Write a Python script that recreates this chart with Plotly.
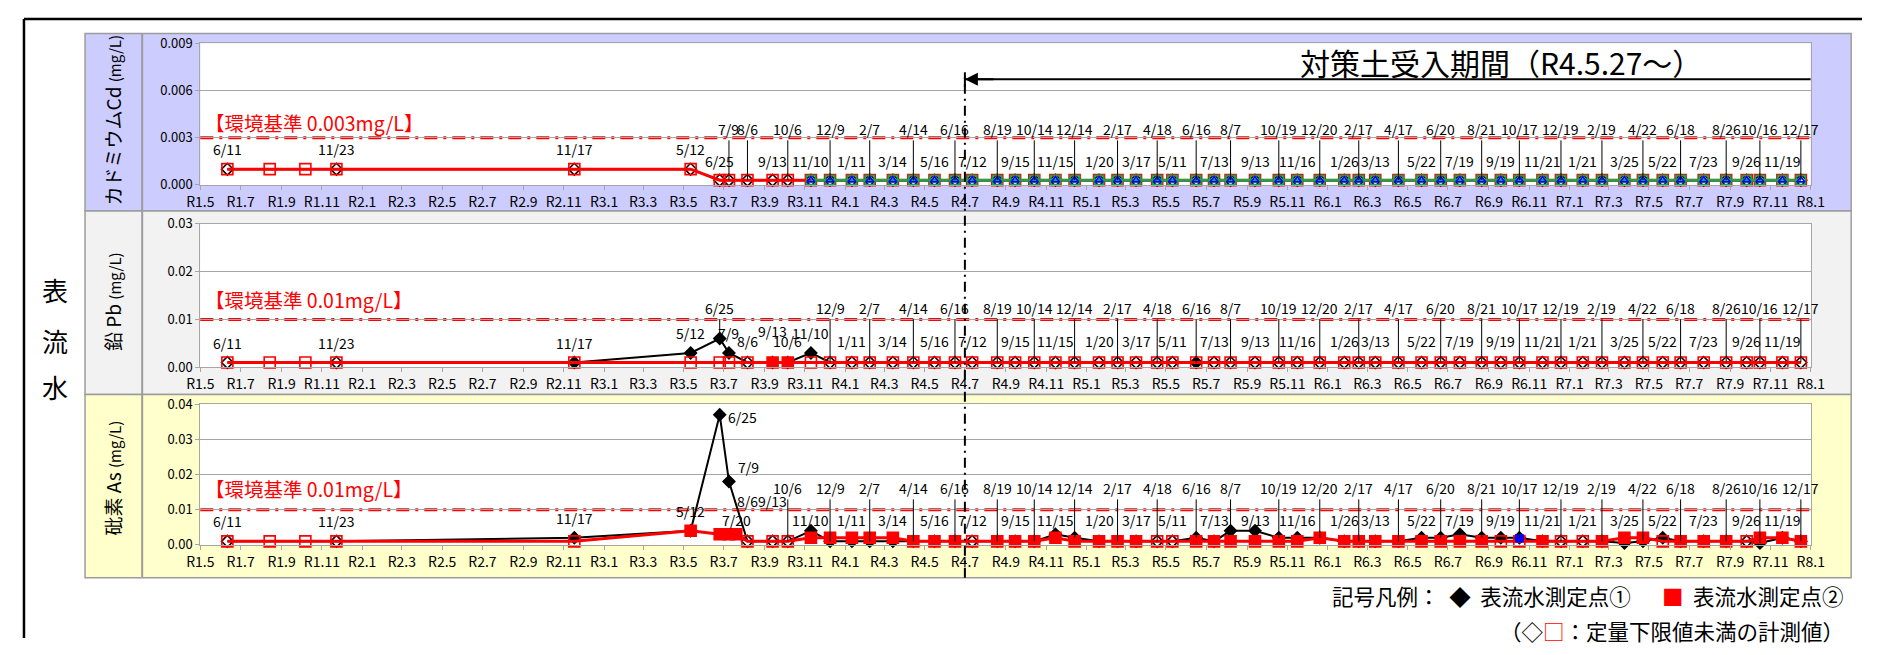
import plotly.graph_objects as go

# page is 1884x655 with the browser's default 8px body margin -> figure is 16px smaller
PAGE_W, PAGE_H, OFF = 1884, 655, 8
W, H = PAGE_W - 2 * OFF, PAGE_H - 2 * OFF

# ---------------- data ----------------
TICK_LABELS = ["R1.5", "R1.7", "R1.9", "R1.11", "R2.1", "R2.3", "R2.5", "R2.7", "R2.9", "R2.11",
               "R3.1", "R3.3", "R3.5", "R3.7", "R3.9", "R3.11", "R4.1", "R4.3", "R4.5", "R4.7",
               "R4.9", "R4.11", "R5.1", "R5.3", "R5.5", "R5.7", "R5.9", "R5.11", "R6.1", "R6.3",
               "R6.5", "R6.7", "R6.9", "R6.11", "R7.1", "R7.3", "R7.5", "R7.7", "R7.9", "R7.11", "R8.1"]

# sampling dates of point 1 (also label dates)
DATES_P1 = ["2019-06-11", "2019-11-23", "2020-11-17", "2021-05-12", "2021-06-25", "2021-07-09",
            "2021-08-06", "2021-09-13", "2021-10-06", "2021-11-10", "2021-12-09",
            "2022-01-11", "2022-02-07", "2022-03-14", "2022-04-14", "2022-05-16", "2022-06-16",
            "2022-07-12", "2022-08-19", "2022-09-15", "2022-10-14", "2022-11-15", "2022-12-14",
            "2023-01-20", "2023-02-17", "2023-03-17", "2023-04-18", "2023-05-11", "2023-06-16",
            "2023-07-13", "2023-08-07", "2023-09-13", "2023-10-19", "2023-11-16", "2023-12-20",
            "2024-01-26", "2024-02-17", "2024-03-13", "2024-04-17", "2024-05-22", "2024-06-20",
            "2024-07-19", "2024-08-21", "2024-09-19", "2024-10-17", "2024-11-21", "2024-12-19",
            "2025-01-21", "2025-02-19", "2025-03-25", "2025-04-22", "2025-05-22", "2025-06-18",
            "2025-07-23", "2025-08-26", "2025-09-26", "2025-10-16", "2025-11-19", "2025-12-17"]

# sampling dates of point 2 (Cd, Pb)
DATES_P2 = ["2019-06-11", "2019-08-14", "2019-10-07", "2019-11-23"] + DATES_P1[2:]
# sampling dates of point 2 (As) - extra sample on R3.7.20
DATES_P2_AS = DATES_P2[:8] + ["2021-07-20"] + DATES_P2[8:]

# start of the extra Cd series (green / blue)
DATES_CD_EXTRA = DATES_P1[9:]

# ---- Cd (mg/L) ----
CD_P1 = [0.001, 0.001, 0.001, 0.001, 0.0003, 0.0003, 0.0003, 0.0003, 0.0003, 0.0003, 0.0003,
         0.0003, 0.0003, 0.0003, 0.0003, 0.0003, 0.0003, 0.0003, 0.0003, 0.0003, 0.0003, 0.0003, 0.0003,
         0.0003, 0.0003, 0.0003, 0.0003, 0.0003, 0.0003, 0.0003, 0.0003, 0.0003, 0.0003, 0.0003, 0.0003,
         0.0003, 0.0003, 0.0003, 0.0003, 0.0003, 0.0003, 0.0003, 0.0003, 0.0003, 0.0003, 0.0003, 0.0003,
         0.0003, 0.0003, 0.0003, 0.0003, 0.0003, 0.0003, 0.0003, 0.0003, 0.0003, 0.0003, 0.0003, 0.0003]
CD_P1_DET = [0] * len(CD_P1)
CD_P2 = [0.001, 0.001, 0.001, 0.001, 0.001, 0.001, 0.0003, 0.0003, 0.0003, 0.0003, 0.0003, 0.0003, 0.0003,
         0.0003, 0.0003, 0.0003, 0.0003, 0.0003, 0.0003, 0.0003, 0.0003, 0.0003, 0.0003, 0.0003, 0.0003,
         0.0003, 0.0003, 0.0003, 0.0003, 0.0003, 0.0003, 0.0003, 0.0003, 0.0003, 0.0003, 0.0003, 0.0003,
         0.0003, 0.0003, 0.0003, 0.0003, 0.0003, 0.0003, 0.0003, 0.0003, 0.0003, 0.0003, 0.0003, 0.0003,
         0.0003, 0.0003, 0.0003, 0.0003, 0.0003, 0.0003, 0.0003, 0.0003, 0.0003, 0.0003, 0.0003, 0.0003]
CD_P2_DET = [0] * len(CD_P2)
CD_EXTRA = [0.0003, 0.0003, 0.0003, 0.0003, 0.0003, 0.0003, 0.0003, 0.0003, 0.0003, 0.0003,
            0.0003, 0.0003, 0.0003, 0.0003, 0.0003, 0.0003, 0.0003, 0.0003, 0.0003, 0.0003,
            0.0003, 0.0003, 0.0003, 0.0003, 0.0003, 0.0003, 0.0003, 0.0003, 0.0003, 0.0003,
            0.0003, 0.0003, 0.0003, 0.0003, 0.0003, 0.0003, 0.0003, 0.0003, 0.0003, 0.0003,
            0.0003, 0.0003, 0.0003, 0.0003, 0.0003, 0.0003, 0.0003, 0.0003, 0.0003, 0.0003]

# ---- Pb (mg/L) ----
PB_P1 = [0.001, 0.001, 0.001, 0.003, 0.006, 0.003, 0.001, 0.001, 0.001, 0.003, 0.001,
         0.001, 0.001, 0.001, 0.001, 0.001, 0.001, 0.001, 0.001, 0.001, 0.001, 0.001, 0.001,
         0.001, 0.001, 0.001, 0.001, 0.001, 0.001, 0.001, 0.001, 0.001, 0.001, 0.001, 0.001,
         0.001, 0.001, 0.001, 0.001, 0.001, 0.001, 0.001, 0.001, 0.001, 0.001, 0.001, 0.001,
         0.001, 0.001, 0.001, 0.001, 0.001, 0.001, 0.001, 0.001, 0.001, 0.001, 0.001, 0.001]
PB_P1_DET = [0, 0, 1, 1, 1, 1, 0, 0, 0, 1, 0,
             0, 0, 0, 0, 0, 0, 0, 0, 0, 0, 0, 0,
             0, 0, 0, 0, 0, 1, 0, 0, 0, 0, 0, 0,
             0, 0, 0, 0, 0, 0, 0, 0, 0, 0, 0, 0,
             0, 0, 0, 0, 0, 0, 0, 0, 0, 0, 0, 0]
PB_P2 = [0.001, 0.001, 0.001, 0.001, 0.001, 0.001, 0.001, 0.001, 0.001, 0.001, 0.001, 0.001, 0.001,
         0.001, 0.001, 0.001, 0.001, 0.001, 0.001, 0.001, 0.001, 0.001, 0.001, 0.001, 0.001,
         0.001, 0.001, 0.001, 0.001, 0.001, 0.001, 0.001, 0.001, 0.001, 0.001, 0.001, 0.001,
         0.001, 0.001, 0.001, 0.001, 0.001, 0.001, 0.001, 0.001, 0.001, 0.001, 0.001, 0.001,
         0.001, 0.001, 0.001, 0.001, 0.001, 0.001, 0.001, 0.001, 0.001, 0.001, 0.001, 0.001]
PB_P2_DET = [0, 0, 0, 0, 0, 0, 0, 0, 0, 1, 1, 0, 0,
             0, 0, 0, 0, 0, 0, 0, 0, 0, 0, 0, 0,
             0, 0, 0, 0, 0, 0, 0, 0, 0, 0, 0, 0,
             0, 0, 0, 0, 0, 0, 0, 0, 0, 0, 0, 0,
             0, 0, 0, 0, 0, 0, 0, 0, 0, 0, 0, 0]

# ---- As (mg/L) ----
AS_P1 = [0.001, 0.001, 0.002, 0.004, 0.037, 0.018, 0.001, 0.001, 0.001, 0.004, 0.001,
         0.001, 0.001, 0.001, 0.001, 0.001, 0.001, 0.001, 0.001, 0.001, 0.001, 0.003, 0.002,
         0.001, 0.001, 0.001, 0.001, 0.001, 0.002, 0.001, 0.004, 0.004, 0.002, 0.002, 0.002,
         0.001, 0.001, 0.001, 0.001, 0.002, 0.002, 0.003, 0.002, 0.002, 0.002, 0.001, 0.001,
         0.001, 0.001, 0.0005, 0.001, 0.002, 0.001, 0.001, 0.001, 0.001, 0.0005, 0.002, 0.001]
AS_P1_DET = [0, 0, 1, 1, 1, 1, 0, 0, 0, 1, 1,
             1, 1, 1, 1, 1, 1, 0, 1, 1, 1, 1, 1,
             1, 1, 1, 0, 0, 1, 1, 1, 1, 1, 1, 1,
             1, 1, 1, 1, 1, 1, 1, 1, 1, 1, 1, 0,
             0, 1, 1, 1, 1, 1, 1, 1, 0, 1, 1, 1]
AS_P2 = [0.001, 0.001, 0.001, 0.001, 0.001, 0.004, 0.003, 0.003, 0.003, 0.001, 0.001, 0.001, 0.002, 0.002,
         0.002, 0.002, 0.002, 0.001, 0.001, 0.001, 0.001, 0.001, 0.001, 0.001, 0.002, 0.001,
         0.001, 0.001, 0.001, 0.001, 0.001, 0.001, 0.001, 0.001, 0.001, 0.001, 0.001, 0.002,
         0.001, 0.001, 0.001, 0.001, 0.001, 0.001, 0.001, 0.001, 0.001, 0.001, 0.001, 0.001,
         0.001, 0.001, 0.002, 0.002, 0.001, 0.001, 0.001, 0.001, 0.001, 0.002, 0.002, 0.001]
AS_P2_DET = [0, 0, 0, 0, 0, 1, 1, 1, 1, 0, 0, 0, 1, 1,
             1, 1, 1, 1, 1, 1, 0, 1, 1, 1, 1, 1,
             1, 1, 1, 0, 0, 1, 1, 1, 1, 1, 1, 1,
             1, 1, 1, 1, 1, 1, 1, 1, 0, 0, 1, 0,
             0, 1, 1, 1, 0, 1, 1, 1, 0, 1, 1, 1]
AS_BLUE_DATES = ["2024-10-17"]
AS_BLUE = [0.0019]

STANDARDS = [0.003, 0.01, 0.01]
STANDARD_TEXT = ["【環境基準 0.003mg/L】", "【環境基準 0.01mg/L】", "【環境基準 0.01mg/L】"]
Y_MAX = [0.009, 0.03, 0.04]
Y_TICKS = [[0, 0.003, 0.006, 0.009], [0, 0.01, 0.02, 0.03], [0, 0.01, 0.02, 0.03, 0.04]]
Y_FMT = [".3f", ".2f", ".2f"]
PANEL_TITLES = ['カドミウムCd <span style="font-size:15px">(mg/L)</span>',
                '鉛 Pb <span style="font-size:15px">(mg/L)</span>',
                '砒素 As <span style="font-size:15px">(mg/L)</span>']
TITLE = "対策土受入期間（R4.5.27～）"
START_DATE = "2022-07-01"

# ---------------- layout helpers ----------------
def tick_date(lbl):
    y, m = lbl[1:].split(".")
    return "%d-%02d-01" % (2018 + int(y), int(m))

TICK_DATES = [tick_date(t) for t in TICK_LABELS]
LABELS = ["%d/%d" % (int(d[5:7]), int(d[8:10])) for d in DATES_P1]

# page pixel -> paper fraction
def px(x):
    return (x - OFF) / W

def py(y):
    return 1 - (y - OFF) / H

FONT = "Noto Sans CJK JP, Noto Sans, sans-serif"
GRAY = "#A6A6A6"
PLOT_X = (189, 1824)
PLOT_Y = [(34, 180), (220, 368), (406, 551)]
PANEL_Y = [(24, 207), (207, 396), (396, 585)]
PANEL_BG = ["#CCCCFF", "#F2F2F2", "#FFFFCC"]

fig = go.Figure()


def add_series(n, dates, vals, det, sym, color, size, lw):
    symbols = [sym if f else sym + "-open" for f in det]
    fig.add_trace(go.Scatter(
        x=dates, y=vals, xaxis="x" + n, yaxis="y" + n, mode="lines+markers",
        line=dict(color=color, width=lw),
        marker=dict(symbol=symbols, size=size, color=color, line=dict(color=color, width=1.6)),
        showlegend=False, hoverinfo="skip", cliponaxis=False))


# Cd
add_series("", DATES_P1, CD_P1, CD_P1_DET, "diamond", "black", 9, 2)
add_series("", DATES_P2, CD_P2, CD_P2_DET, "square", "red", 11, 3)
add_series("", DATES_CD_EXTRA, CD_EXTRA, [0] * len(CD_EXTRA), "square", "#00B050", 9, 2.5)
add_series("", DATES_CD_EXTRA, CD_EXTRA, [0] * len(CD_EXTRA), "triangle-up", "#0000FF", 7, 0)
# Pb
add_series("2", DATES_P1, PB_P1, PB_P1_DET, "diamond", "black", 9, 2)
add_series("2", DATES_P2, PB_P2, PB_P2_DET, "square", "red", 11, 3)
# As
add_series("3", DATES_P1, AS_P1, AS_P1_DET, "diamond", "black", 9, 2)
add_series("3", DATES_P2_AS, AS_P2, AS_P2_DET, "square", "red", 11, 3)
add_series("3", AS_BLUE_DATES, AS_BLUE, [1], "square", "#0000FF", 7, 0)

layout = dict(
    width=W, height=H, margin=dict(l=0, r=0, t=0, b=0),
    paper_bgcolor="white", plot_bgcolor="white",
    font=dict(family=FONT, size=14, color="black"),
    hovermode=False, showlegend=False,
)
shapes = []
annotations = []


def note(x, y, text, size, color="black", xanchor="center", yanchor="middle", **kw):
    d = dict(xref="paper", yref="paper", x=px(x), y=py(y), text=text, showarrow=False,
             xanchor=xanchor, yanchor=yanchor, font=dict(size=size, family=FONT, color=color))
    d.update(kw)
    annotations.append(d)


# outer frame (top and left edges; the rest runs off the page) - kept inside the figure
shapes.append(dict(type="line", xref="paper", yref="paper", x0=px(10), x1=1, y0=py(9), y1=py(9),
                   line=dict(color="black", width=2.5), layer="below"))
shapes.append(dict(type="line", xref="paper", yref="paper", x0=px(10), x1=px(10), y0=0, y1=py(9),
                   line=dict(color="black", width=2.5), layer="below"))

for i in range(3):
    n = "" if i == 0 else str(i + 1)
    top, bot = PLOT_Y[i]
    layout["xaxis" + n] = dict(
        domain=[px(PLOT_X[0]), px(PLOT_X[1])], anchor="y" + n, type="date",
        range=[TICK_DATES[0], TICK_DATES[-1]], tickvals=TICK_DATES, ticktext=TICK_LABELS,
        ticks="outside", ticklen=4, tickcolor=GRAY, showline=True, linecolor=GRAY, linewidth=1,
        mirror=True, showgrid=False, zeroline=False, tickfont=dict(size=14, family=FONT))
    layout["yaxis" + n] = dict(
        domain=[py(bot), py(top)], anchor="x" + n, range=[0, Y_MAX[i]], tickvals=Y_TICKS[i],
        tickformat=Y_FMT[i], ticks="outside", ticklen=4, tickcolor=GRAY, showgrid=True,
        gridcolor=GRAY, gridwidth=1, showline=True, linecolor=GRAY, mirror=True, zeroline=False,
        tickfont=dict(size=13, family=FONT))
    # panel background
    y0, y1 = PANEL_Y[i]
    shapes.append(dict(type="rect", xref="paper", yref="paper", x0=px(72), x1=px(1865),
                       y0=py(y1), y1=py(y0), fillcolor=PANEL_BG[i], line=dict(color="#9C9C9C", width=1.5),
                       layer="below"))
    shapes.append(dict(type="line", xref="paper", yref="paper", x0=px(130), x1=px(130),
                       y0=py(y1), y1=py(y0), line=dict(color="#9C9C9C", width=2), layer="below"))
    # white plot area
    shapes.append(dict(type="rect", xref="x" + n + " domain", yref="y" + n + " domain", x0=0, x1=1,
                       y0=0, y1=1, fillcolor="white", line=dict(width=0), layer="below"))
    # environmental standard line
    shapes.append(dict(type="line", xref="x" + n + " domain", yref="y" + n, x0=0, x1=1,
                       y0=STANDARDS[i], y1=STANDARDS[i],
                       line=dict(color="#FF0000", width=3, dash="13px,6px,3px,6px"), layer="below"))
    note(192, [116, 298, 493][i], STANDARD_TEXT[i], 19.5, color="#FF0000", xanchor="left")
    # panel title (rotated)
    note(100, [114, 300, 482][i], PANEL_TITLES[i], 19, textangle=-90)

# 表流水
for ch, yy in zip("表流水", [288, 340, 388]):
    note(42, yy, ch, 26)

# start-of-period vertical line and arrow
shapes.append(dict(type="line", xref="x", yref="paper", x0=START_DATE, x1=START_DATE,
                   y0=py(585), y1=py(66), line=dict(color="black", width=2, dash="10px,5px,2px,5px"),
                   layer="above"))
shapes.append(dict(type="line", xref="x", yref="paper", x0=START_DATE, x1=START_DATE,
                   y0=py(79), y1=py(64), line=dict(color="black", width=2), layer="above"))
shapes.append(dict(type="line", xref="x", yref="paper", x0=START_DATE, x1=TICK_DATES[-1],
                   y0=py(71), y1=py(71), line=dict(color="black", width=2), layer="above"))
annotations.append(dict(xref="x", yref="paper", x=START_DATE, y=py(71), ax=30, ay=0, text="",
                        showarrow=True, arrowhead=2, arrowsize=1.3, arrowwidth=2, arrowcolor="black",
                        standoff=0))
note(1510, 53, TITLE, 30)

# data labels
LABEL_FONT = dict(size=14, family=FONT, color="black")
ALT = ["t" if k % 2 == 0 else "b" for k in range(len(LABELS) - 10)]
CODES = [
    ["a", "a", "a", "a", "b", "t", "t", "b", "t", "b"] + ALT,
    ["a", "a", "a", "a", "t", "a", "b", "A", "b", "a"] + ALT,
    ["a", "a", "a", "a", "r", "R", "m", "m", "t", "b"] + ALT,
]
ROWS = [  # (top row, bottom row, mid row) in data units
    (0.00356, 0.00153, None),
    (0.01245, 0.0054, None),
    (0.0162, 0.0070, 0.0126),
]
PANEL_VALS = [CD_P1, PB_P1, AS_P1]

for i in range(3):
    n = "" if i == 0 else str(i + 1)
    xr, yr = "x" + n, "y" + n
    top, bot, mid = ROWS[i]
    for d, v, t, c in zip(DATES_P1, PANEL_VALS[i], LABELS, CODES[i]):
        a = dict(x=d, y=v, xref=xr, yref=yr, text=t, showarrow=False, font=LABEL_FONT,
                 xanchor="center", yanchor="middle")
        if c == "a":
            a.update(yshift=20)
        elif c == "A":
            a.update(yshift=32)
        elif c == "t":
            a.update(showarrow=True, arrowhead=0, arrowwidth=1, arrowcolor="black", axref="pixel",
                     ax=0, ayref=yr, ay=top, standoff=0)
        elif c == "b":
            a.update(y=bot)
        elif c == "m":
            a.update(y=mid)
        elif c == "r":
            a.update(xanchor="left", xshift=6, yshift=-2)
        elif c == "R":
            a.update(xanchor="left", xshift=7, yshift=15)
        annotations.append(a)

# extra As label (point 2 on R3.7.20)
annotations.append(dict(x=DATES_P2_AS[8], y=AS_P2[8], xref="x3", yref="y3", text="7/20",
                        showarrow=False, yshift=14, xanchor="center", yanchor="middle", font=LABEL_FONT))

# legend text
note(1860, 603, '記号凡例：  ◆  表流水測定点①　  <span style="color:#FF0000">■</span>  表流水測定点②',
     21.5, xanchor="right")
note(1860, 639, '（◇<span style="color:#FF0000">□</span>：定量下限値未満の計測値）', 21.5, xanchor="right")

layout["shapes"] = shapes
layout["annotations"] = annotations
fig.update_layout(**layout)
fig.write_html("out.html", config={"displayModeBar": False})
